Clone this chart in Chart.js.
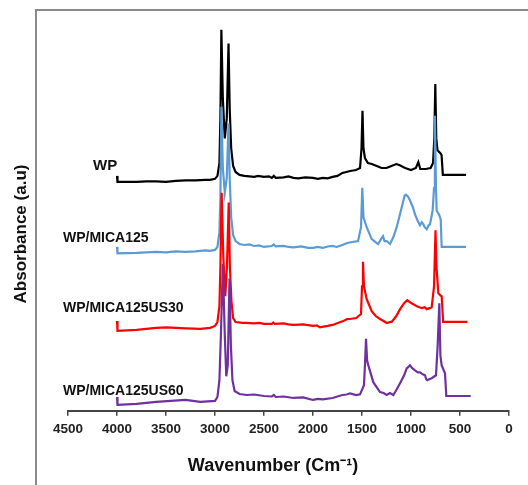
<!DOCTYPE html>
<html>
<head>
<meta charset="utf-8">
<script src="https://cdn.jsdelivr.net/npm/chart.js@4.4.1/dist/chart.umd.min.js"></script>
<style>
  body { margin: 0; background: #fff; }
  #wrap { position: relative; width: 528px; height: 485px; overflow: hidden; }
  #frame { position: absolute; left: 35px; top: 9px; width: 700px; height: 700px;
           border-left: 2px solid #8a8a8a; border-top: 2px solid #8a8a8a; pointer-events: none; }
</style>
</head>
<body>
<div id="wrap">
  <canvas id="myChart" width="528" height="485"></canvas>
  <div id="frame"></div>
</div>
<script>
// spectra (wavenumber in cm-1, absorbance in arbitrary offset units)
var wpWave = [4000, 3995, 3800, 3700, 3600, 3500, 3400, 3300, 3200, 3100, 3050, 3000, 2975, 2955, 2945, 2935, 2920, 2900, 2880, 2862, 2850, 2835, 2815, 2790, 2750, 2700, 2650, 2600, 2560, 2500, 2450, 2420, 2400, 2380, 2300, 2250, 2200, 2150, 2080, 2000, 1950, 1900, 1850, 1800, 1750, 1700, 1660, 1620, 1560, 1520, 1505, 1495, 1485, 1470, 1440, 1400, 1350, 1300, 1250, 1200, 1150, 1120, 1060, 1000, 950, 925, 905, 850, 800, 775, 762, 752, 742, 730, 700, 688, 675, 439];
var wpAbs = [238, 232, 232, 232.5, 232.5, 232, 233, 233.5, 233.5, 234, 234, 235, 238, 251, 296, 386, 316, 276, 296, 372, 306, 266, 248, 242, 239, 238, 237.5, 237, 238, 237, 237.5, 236, 238, 236, 236.5, 237.5, 236, 235.5, 236.5, 236, 235, 236, 235.5, 237, 238, 241, 242, 243, 244, 246, 266, 304, 266, 256, 251, 250, 248, 246, 246, 248, 250, 249, 246, 244, 246, 252, 245, 245, 246, 251, 276, 331, 276, 264, 261, 259, 239, 239];

var mica125Wave = [4000, 3995, 3800, 3700, 3600, 3500, 3400, 3300, 3200, 3100, 3050, 3000, 2975, 2955, 2945, 2935, 2920, 2900, 2880, 2862, 2850, 2835, 2815, 2790, 2750, 2700, 2650, 2600, 2550, 2500, 2420, 2400, 2380, 2300, 2250, 2200, 2120, 2050, 2000, 1950, 1900, 1850, 1800, 1760, 1700, 1650, 1600, 1540, 1510, 1497, 1485, 1452, 1401, 1336, 1300, 1286, 1270, 1248, 1214, 1180, 1146, 1095, 1065, 1051, 1030, 1010, 980, 959, 930, 908, 890, 874, 860, 840, 820, 806, 779, 765, 756, 745, 738, 710, 697, 687, 439];
var mica125Abs = [166, 159.5, 160, 160.5, 161, 160.5, 161.5, 161, 161.5, 162.5, 162, 163, 166, 181, 216, 308, 246, 221, 236, 291, 236, 196, 178, 172, 169, 168, 168.5, 167, 167.5, 166, 167, 168.5, 166.5, 167, 166, 165.5, 166.5, 165, 165, 166, 165, 166.5, 167, 166, 168, 170, 171, 172, 186, 226, 196, 186, 174, 169, 175, 177, 172, 172, 169, 176, 186, 206, 218, 219, 217, 213, 206, 199, 192, 188, 191, 189, 186, 184, 188, 189, 203, 226, 299, 226, 203, 198, 194, 166, 166];

var us30Wave = [4000, 3995, 3800, 3700, 3600, 3500, 3400, 3300, 3150, 3050, 3000, 2975, 2955, 2945, 2932, 2915, 2895, 2878, 2860, 2848, 2832, 2815, 2790, 2720, 2677, 2600, 2550, 2500, 2420, 2405, 2390, 2300, 2250, 2200, 2100, 2000, 1960, 1929, 1880, 1850, 1800, 1720, 1690, 1650, 1622, 1560, 1510, 1500, 1490, 1480, 1452, 1401, 1360, 1316, 1280, 1248, 1210, 1197, 1150, 1112, 1070, 1038, 1010, 976, 940, 891, 860, 840, 810, 789, 765, 750, 740, 721, 700, 687, 672, 425];
var us30Abs = [91, 81, 82, 83, 84, 84.5, 84, 83.5, 83, 84, 86, 90, 106, 146, 221, 156, 116, 146, 211, 146, 111, 94, 90, 89, 89, 88.5, 89, 88, 88, 89.5, 88, 88.5, 87.5, 87, 87.5, 86, 86.5, 84.5, 85.5, 86, 87, 90, 91, 93, 93, 94, 98, 126, 151, 126, 113, 101, 96, 93, 91, 89, 90, 90, 96, 103, 109, 112, 110, 108, 106, 104, 105, 103, 104, 105, 126, 183, 146, 119, 117, 116, 90, 90];

var us60Wave = [4000, 3995, 3800, 3700, 3600, 3450, 3300, 3150, 3000, 2975, 2955, 2940, 2920, 2900, 2885, 2870, 2852, 2838, 2822, 2800, 2750, 2677, 2600, 2500, 2420, 2400, 2380, 2300, 2200, 2100, 2000, 1950, 1900, 1800, 1700, 1656, 1622, 1560, 1520, 1480, 1470, 1459, 1448, 1435, 1385, 1316, 1280, 1248, 1215, 1180, 1150, 1112, 1070, 1044, 1010, 985, 959, 930, 908, 880, 857, 845, 834, 815, 789, 760, 745, 728, 711, 700, 687, 653, 640, 391];
var us60Abs = [14, 6, 7, 8, 9, 10, 11, 9, 10, 14, 31, 76, 149, 76, 35, 46, 134, 66, 31, 20, 17, 16, 16.5, 15, 14.5, 16, 14, 14.5, 13, 13.5, 11, 12, 11.5, 13, 16, 16.5, 17.7, 16, 16.7, 26, 46, 73, 51, 46, 29, 19, 18, 16, 18, 16, 21, 28, 36, 43, 46, 43, 41, 39, 39, 37, 36, 32, 31, 32, 33, 35, 36, 66, 109, 56, 46, 38, 15, 15];

var seriesNames = ["WP", "WP/MICA125", "WP/MICA125US30", "WP/MICA125US60"];
var seriesColors = ["#000000", "#5b9bd5", "#ff0000", "#7030a0"];
var xTicks = [0, 500, 1000, 1500, 2000, 2500, 3000, 3500, 4000, 4500];

function toPoints(wave, abs) {
  var pts = [];
  for (var i = 0; i < wave.length; i++) {
    pts.push({ x: wave[i], y: abs[i] });
  }
  return pts;
}

var fontFam = '"Liberation Sans", Arial, sans-serif';

// series names next to each curve + both axis titles
var textPlugin = {
  id: "spectraText",
  afterDraw: function(chart) {
    var ctx = chart.ctx;
    var spots = [[93, 166, 15], [63, 238, 14], [63, 308, 14], [63, 391, 14]];
    ctx.save();
    ctx.fillStyle = "#111";
    ctx.textBaseline = "middle";
    ctx.textAlign = "left";
    for (var i = 0; i < seriesNames.length; i++) {
      ctx.font = "bold " + spots[i][2] + "px " + fontFam;
      ctx.fillText(seriesNames[i], spots[i][0], spots[i][1]);
    }
    ctx.textAlign = "center";
    ctx.font = "bold 18px " + fontFam;
    ctx.fillText("Wavenumber (Cm\u207B\u00B9)", 273, 466);
    ctx.translate(21, 234);
    ctx.rotate(-Math.PI / 2);
    ctx.font = "bold 17px " + fontFam;
    ctx.fillText("Absorbance (a.u)", 0, 0);
    ctx.restore();
  }
};

function init() {
  var ctx = document.getElementById("myChart").getContext("2d");
  var waves = [wpWave, mica125Wave, us30Wave, us60Wave];
  var absList = [wpAbs, mica125Abs, us30Abs, us60Abs];
  var datasets = [];
  for (var i = 0; i < seriesNames.length; i++) {
    datasets.push({
      label: seriesNames[i],
      data: toPoints(waves[i], absList[i]),
      borderColor: seriesColors[i],
      borderWidth: 2.2,
      pointRadius: 0,
      tension: 0,
      fill: false,
      order: 4 - i
    });
  }

  new Chart(ctx, {
    type: "line",
    data: { datasets: datasets },
    options: {
      responsive: false,
      animation: false,
      devicePixelRatio: 1,
      layout: { padding: { left: 68, right: 19, top: 16, bottom: 43 } },
      plugins: { legend: { display: false }, tooltip: { enabled: false } },
      scales: {
        x: {
          type: "linear",
          reverse: true,
          min: 0,
          max: 4500,
          afterBuildTicks: function(scale) {
            scale.ticks = xTicks.map(function(v) { return { value: v }; });
          },
          border: { display: true, color: "#444", width: 2 },
          grid: { display: true, drawOnChartArea: false, drawTicks: true, tickLength: 5, color: "#444", lineWidth: 1.5 },
          ticks: {
            color: "#222",
            padding: 5,
            maxRotation: 0,
            autoSkip: false,
            font: { family: fontFam, size: 13.5, weight: "bold" },
            callback: function(v) { return String(v); }
          }
        },
        y: { display: false, min: 0, max: 400 }
      }
    },
    plugins: [textPlugin]
  });
}

init();
</script>
</body>
</html>
